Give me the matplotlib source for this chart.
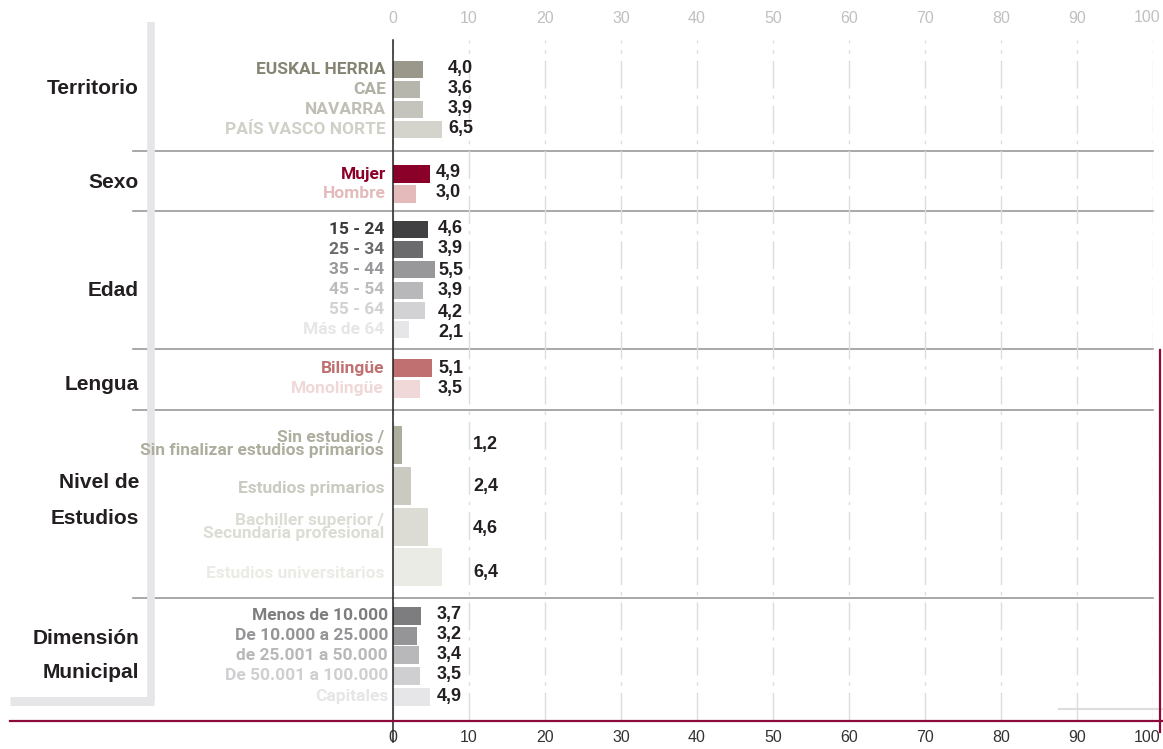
import matplotlib
matplotlib.use("Agg")
import matplotlib.pyplot as plt
from matplotlib.transforms import offset_copy

# ---------------- data ----------------
groups = ["Territorio", "Sexo", "Edad", "Lengua", "Nivel de\nEstudios", "Dimensión\nMunicipal"]

terr_labels = ["EUSKAL HERRIA", "CAE", "NAVARRA", "PAÍS VASCO NORTE"]
terr_values = [4.0, 3.6, 3.9, 6.5]
sexo_labels = ["Mujer", "Hombre"]
sexo_values = [4.9, 3.0]
edad_labels = ["15 - 24", "25 - 34", "35 - 44", "45 - 54", "55 - 64", "Más de 64"]
edad_values = [4.6, 3.9, 5.5, 3.9, 4.2, 2.1]
lengua_labels = ["Bilingüe", "Monolingüe"]
lengua_values = [5.1, 3.5]
estudios_labels = ["Sin estudios /\nSin finalizar estudios primarios", "Estudios primarios",
                   "Bachiller superior /\nSecundaria profesional", "Estudios universitarios"]
estudios_values = [1.2, 2.4, 4.6, 6.4]
dim_labels = ["Menos de 10.000", "De 10.000 a 25.000", "de 25.001 a 50.000",
              "De 50.001 a 100.000", "Capitales"]
dim_values = [3.7, 3.2, 3.4, 3.5, 4.9]
xticks = list(range(0, 101, 10))
xtick_labels = [str(t) for t in xticks]

# ---------------- layout / styles ----------------
W, H = 1163, 749
fig = plt.figure(figsize=(W / 100, H / 100), dpi=100)

# background overlay (pixel coords)
ov = fig.add_axes([0, 0, 1, 1], zorder=0)
ov.set_xlim(0, W)
ov.set_ylim(H, 0)
ov.axis("off")

x0, x100 = 393, 1153
ytop, ybot = 40, 720
ax = fig.add_axes([x0 / W, (H - ybot) / H, (x100 - x0) / W, (ybot - ytop) / H], zorder=1)
ax.patch.set_alpha(0)
ax.set_xlim(0, 100)
ax.set_ylim(ybot, ytop)
for s in ax.spines.values():
    s.set_visible(False)
ax.set_yticks([])
ax.set_xticks(xticks, labels=xtick_labels[:-1] + [""])
ax.tick_params(axis="x", length=0, pad=7.5, labelsize=11.5, labelcolor="#333333")
for t in ax.get_xticklabels():
    t.set_fontfamily("Liberation Sans")
ax.grid(axis="x", color="#dcdcdc", linewidth=1, linestyle=(0, (20, 5, 2.5, 5)))
ax.set_axisbelow(True)
sec = ax.secondary_xaxis("top")
sec.set_xticks(xticks, labels=xtick_labels[:-1] + [""])
sec.tick_params(length=0, pad=10, labelsize=11.5, labelcolor="#c0c0c0")
for s in sec.spines.values():
    s.set_visible(False)
for t in sec.get_xticklabels():
    t.set_fontfamily("Liberation Sans")
# last tick label ("100") nudged left so it stays inside the figure
blend_b = ax.get_xaxis_transform()
ax.text(xticks[-1], 0, xtick_labels[-1], transform=offset_copy(blend_b, fig=fig, x=-6, y=-17, units="dots"),
        ha="center", va="center", fontsize=11.5, color="#333333", family="Liberation Sans")
ax.text(xticks[-1], 1, xtick_labels[-1], transform=offset_copy(blend_b, fig=fig, x=-6, y=22, units="dots"),
        ha="center", va="center", fontsize=11.5, color="#c0c0c0", family="Liberation Sans")

# foreground overlay (pixel coords) for texts and rules
fg = fig.add_axes([0, 0, 1, 1], zorder=3)
fg.patch.set_alpha(0)
fg.set_xlim(0, W)
fg.set_ylim(H, 0)
fg.axis("off")

LABEL_FONT = ["Roboto", "Liberation Sans"]
DARK = "#231f20"

sections = [
    dict(labels=terr_labels, values=terr_values,
         colors=["#9a988a", "#b6b6ac", "#c4c4bc", "#d4d4cc"],
         tcolors=["#858473", "#b0b0a5", "#bfbfb5", "#d0d0c8"],
         ys=[69, 89, 109, 129], h=17, vx=473, vys=[68, 88, 109, 129], lx=386),
    dict(labels=sexo_labels, values=sexo_values,
         colors=["#8b0029", "#e4baba"], tcolors=["#8b0029", "#e4baba"],
         ys=[174, 194], h=18, vx=461, vys=[173, 193], lx=386),
    dict(labels=edad_labels, values=edad_values,
         colors=["#404042", "#6b6b6d", "#98989a", "#b8b8ba", "#d2d2d4", "#e6e6e8"],
         tcolors=["#3a3a3a", "#6b6b6d", "#98989a", "#bcbcbe", "#d2d2d4", "#e6e6e8"],
         ys=[229, 249, 269, 290, 310, 329], h=17, vx=463,
         vys=[229, 249, 270, 291, 312, 333], lx=384),
    dict(labels=lengua_labels, values=lengua_values,
         colors=["#c07070", "#f0d8d8"], tcolors=["#c07070", "#f0d8d8"],
         ys=[368, 389], h=18, vx=463, vys=[368, 389], lx=384),
    dict(labels=estudios_labels, values=estudios_values,
         colors=["#aeae9f", "#cacac0", "#dcdcd5", "#ebebe6"],
         tcolors=["#aeae9f", "#cacac0", "#dcdcd5", "#ebebe6"],
         ys=[445, 486, 527, 567], h=38, vx=473, vys=[444, 486, 528, 573], lx=384,
         lys=[444, 488, 527, 573], vha="left"),
    dict(labels=dim_labels, values=dim_values,
         colors=["#7d7d7f", "#959597", "#b8b8ba", "#cfcfd1", "#e6e6e8"],
         tcolors=["#7d7d7f", "#959597", "#b8b8ba", "#cfcfd1", "#e6e6e8"],
         ys=[616, 636, 655, 676, 697], h=18, vx=462, vys=[615, 634, 654, 675, 696], lx=388),
]

for sec_ in sections:
    ax.barh(sec_["ys"], sec_["values"], height=sec_["h"], color=sec_["colors"],
            left=0, zorder=3)
    lys = sec_.get("lys", sec_["ys"])
    for lab, y, c in zip(sec_["labels"], lys, sec_["tcolors"]):
        fg.text(sec_["lx"], y, lab, ha="right", va="center", fontsize=12.5,
                fontweight="bold", color=c, family=LABEL_FONT, linespacing=0.9)
    for v, y in zip(sec_["values"], sec_["vys"]):
        fg.text(sec_["vx"], y, f"{v:.1f}".replace(".", ","), ha=sec_.get("vha", "right"),
                va="center", fontsize=13, fontweight="bold", color=DARK,
                family="Liberation Sans")

# group labels
group_pos = [(88,), (183,), (290,), (384,), (483, 518), (638, 672)]
for g, ps in zip(groups, group_pos):
    for line, y in zip(g.split("\n"), ps):
        fg.text(139, y, line, ha="right", va="center", fontsize=15, fontweight="bold",
                color=DARK, family="Liberation Sans")

# separators
for y in [151, 211, 349, 410, 598]:
    ov.plot([133, x100], [y, y], color="#9a9a9a", lw=1.2, zorder=2)

# grey L frame
ov.plot([150.5, 150.5], [22, 701], color="#e6e6e8", lw=5.5, solid_capstyle="butt")
ov.plot([10, 153.5], [701, 701], color="#e6e6e8", lw=6.5, solid_capstyle="butt")

# zero line
fg.plot([392.5, 392.5], [40, 742], color="#231f20", lw=1.1)

# red lines
fg.plot([10, W], [721, 721], color="#8b0a3a", lw=1.6)
fg.plot([1160, 1160], [350, 732], color="#8b0a3a", lw=1.6)
ov.plot([1059, W], [709, 709], color="#dddddd", lw=1.5, zorder=2)

fig.savefig("out.png", dpi=100)
